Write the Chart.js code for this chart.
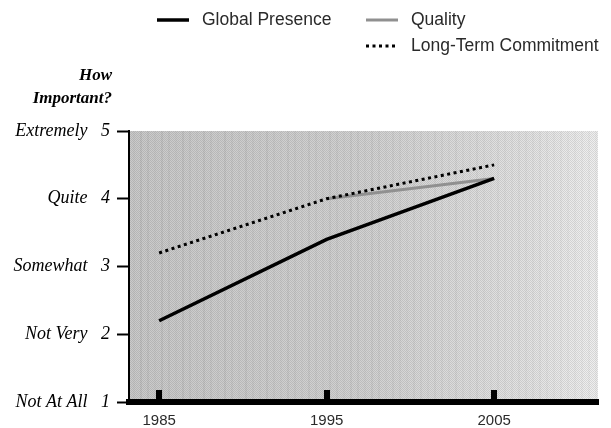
<!DOCTYPE html>
<html>
<head>
<meta charset="utf-8">
<script src="https://cdn.jsdelivr.net/npm/chart.js@4/dist/chart.umd.min.js"></script>
<style>
  html, body { margin: 0; padding: 0; background: #fff; }
  #wrap { width: 611px; height: 428px; }
</style>
</head>
<body>
<div id="wrap"><canvas id="c" width="611" height="428"></canvas></div>
<script>
// Survey years and importance ratings (1 = Not At All ... 5 = Extremely)
const years = [1985, 1995, 2005];
const globalPresence = [2.2, 3.4, 4.3];
const quality = [null, 4.0, 4.3];
const longTermCommitment = [3.2, 4.0, 4.5];

const levelValues = [1, 2, 3, 4, 5];
const levelNames = ['Not At All', 'Not Very', 'Somewhat', 'Quite', 'Extremely'];
const seriesNames = ['Global Presence', 'Quality', 'Long-Term Commitment'];
const axisTitleLines = ['How', 'Important?'];

const toPoints = vals => years.map((yr, i) => ({ x: yr, y: vals[i] }));

// Small checker tile used to give the shading a screened look
function makeScreenTile() {
  const t = document.createElement('canvas');
  t.width = 2; t.height = 2;
  const c = t.getContext('2d');
  c.fillStyle = 'rgba(0,0,0,0.10)';
  c.fillRect(0, 0, 1, 1);
  c.fillRect(1, 1, 1, 1);
  return t;
}

// Shaded plotting surface
const plotBackground = {
  id: 'plotBackground',
  beforeDraw(chart) {
    const { ctx, chartArea: a } = chart;
    const w = a.right - a.left - 1, h = a.bottom - a.top;
    ctx.save();
    const g = ctx.createLinearGradient(a.left, 0, a.right, 0);
    g.addColorStop(0, '#cacaca');
    g.addColorStop(0.5, '#d2d2d2');
    g.addColorStop(0.85, '#e3e3e3');
    g.addColorStop(1, '#efefef');
    ctx.fillStyle = g;
    ctx.fillRect(a.left + 1, a.top, w, h);
    // faint vertical streaks, fading toward the right
    for (let x = a.left + 4, k = 0; x < a.right - 2; x += 7, k++) {
      const fade = 1 - (x - a.left) / (a.right - a.left);
      ctx.fillStyle = 'rgba(80,80,80,' + (0.03 + 0.05 * fade * ((k * 5) % 3) / 2) + ')';
      ctx.fillRect(x, a.top, 2, h);
    }
    ctx.fillStyle = ctx.createPattern(makeScreenTile(), 'repeat');
    ctx.fillRect(a.left + 1, a.top, w, h);
    ctx.restore();
  }
};

// Short upright tick stubs sitting on the thick base axis
const baseTicks = {
  id: 'baseTicks',
  beforeDatasetsDraw(chart) {
    const { ctx, chartArea: a, scales: { x } } = chart;
    ctx.save();
    ctx.fillStyle = '#000';
    years.forEach(yr => {
      const px = x.getPixelForValue(yr);
      ctx.fillRect(Math.round(px) - 3, a.bottom - 12, 6, 12);
    });
    ctx.restore();
  }
};

// Axis heading and legend
const headerText = {
  id: 'headerText',
  afterDraw(chart) {
    const { ctx } = chart;
    ctx.save();
    ctx.fillStyle = '#000';
    ctx.font = 'italic bold 17px "Liberation Serif", "Times New Roman", serif';
    ctx.textAlign = 'right';
    ctx.textBaseline = 'middle';
    ctx.fillText(axisTitleLines[0], 112, 76);
    ctx.fillText(axisTitleLines[1], 112, 99);

    const ds = chart.data.datasets;
    const items = [
      { d: ds[0], x: 157, y: 20 },
      { d: ds[1], x: 366, y: 20 },
      { d: ds[2], x: 366, y: 46 }
    ];
    ctx.font = '17.5px "Liberation Sans", Arial, sans-serif';
    ctx.textAlign = 'left';
    items.forEach(it => {
      ctx.save();
      ctx.strokeStyle = it.d.borderColor;
      ctx.lineWidth = it.d.borderWidth;
      ctx.setLineDash(it.d.borderDash || []);
      ctx.beginPath();
      ctx.moveTo(it.x, it.y);
      ctx.lineTo(it.x + 32, it.y);
      ctx.stroke();
      ctx.restore();
      ctx.fillStyle = '#2a2a2a';
      ctx.fillText(it.d.label, it.x + 45, it.y);
    });
    ctx.restore();
  }
};

new Chart(document.getElementById('c'), {
  type: 'line',
  data: {
    datasets: [
      {
        label: seriesNames[0], data: toPoints(globalPresence),
        borderColor: '#000', borderWidth: 3.5, pointRadius: 0, order: 0
      },
      {
        label: seriesNames[1], data: toPoints(quality),
        borderColor: '#909090', borderWidth: 3, pointRadius: 0, order: 2
      },
      {
        label: seriesNames[2], data: toPoints(longTermCommitment),
        borderColor: '#000', borderWidth: 3, borderDash: [3, 3.5], pointRadius: 0, order: 1
      }
    ]
  },
  options: {
    responsive: false,
    devicePixelRatio: 1,
    animation: false,
    layout: { padding: { top: 131, right: 13, left: 0, bottom: 0 } },
    plugins: { legend: { display: false }, tooltip: { enabled: false } },
    scales: {
      x: {
        type: 'linear', min: 1983.2, max: 2011.2,
        afterFit(s) { s.height = 26; },
        afterBuildTicks(s) { s.ticks = years.map(v => ({ value: v })); },
        ticks: {
          callback: v => String(v), autoSkip: false, maxRotation: 0,
          color: '#2a2a2a', padding: 10,
          font: { family: '"Liberation Sans", Arial, sans-serif', size: 15 }
        },
        grid: { drawOnChartArea: false, drawTicks: false },
        border: { display: true, color: '#000', width: 6 }
      },
      y: {
        min: 1, max: 5,
        afterFit(s) { s.width = 129; },
        afterBuildTicks(s) { s.ticks = levelValues.map(v => ({ value: v })); },
        ticks: {
          callback: v => levelNames[v - 1] + '   ' + v, autoSkip: false,
          color: '#000', padding: 7,
          font: { family: '"Liberation Serif", "Times New Roman", serif', style: 'italic', size: 18 }
        },
        grid: { drawOnChartArea: false, drawTicks: true, tickLength: 12, tickWidth: 2, tickColor: '#000' },
        border: { display: true, color: '#000', width: 2 }
      }
    }
  },
  plugins: [plotBackground, baseTicks, headerText]
});
</script>
</body>
</html>
